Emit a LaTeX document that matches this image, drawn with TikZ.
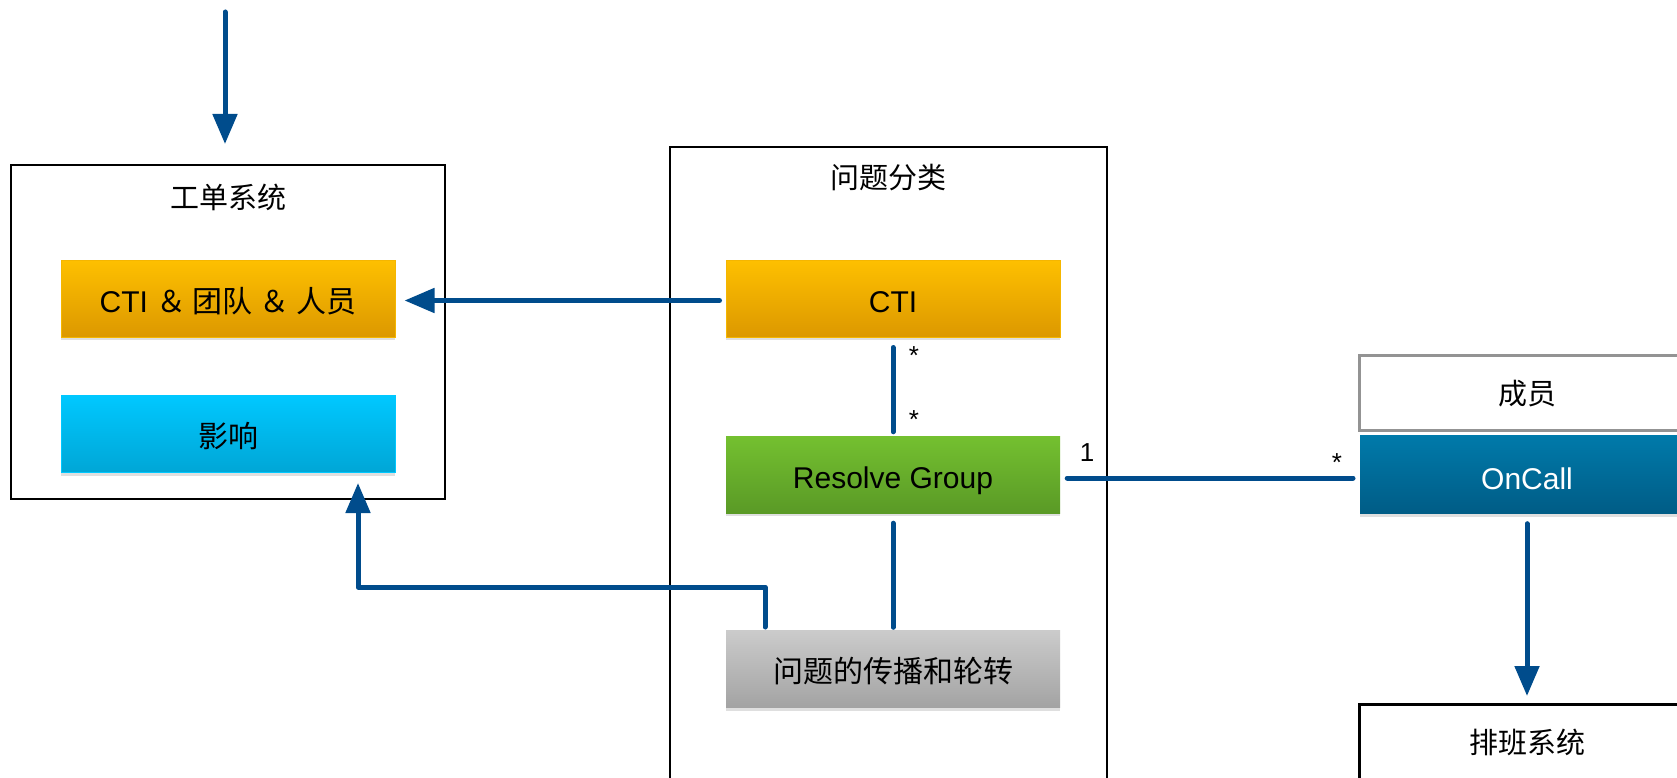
\documentclass[tikz,border=0pt]{standalone}
\usepackage{fontspec}
\setmainfont{Liberation Sans}
\newfontfamily\cjk{Noto Sans CJK SC}
\usetikzlibrary{arrows.meta, shadows}

\definecolor{linkblue}{RGB}{0,76,140}
\definecolor{orangetop}{RGB}{254,192,0}
\definecolor{orangebot}{RGB}{220,152,0}
\definecolor{orangeline}{RGB}{245,182,0}
\definecolor{cyantop}{RGB}{0,200,255}
\definecolor{cyanbot}{RGB}{0,166,214}
\definecolor{greentop}{RGB}{116,192,48}
\definecolor{greenbot}{RGB}{90,154,38}
\definecolor{graytop}{RGB}{203,203,203}
\definecolor{graybot}{RGB}{163,163,163}
\definecolor{oncalltop}{RGB}{0,122,170}
\definecolor{oncallbot}{RGB}{0,92,134}

\tikzset{
	frame/.style={draw=black, line width=2pt, fill=white, inner sep=0pt},
	item/.style={minimum width=334pt, minimum height=77pt, inner sep=0pt,
		text height=27pt, text depth=0pt,
		font=\fontsize{30}{36}\selectfont,
		drop shadow={shadow xshift=0pt, shadow yshift=-3pt, opacity=0.25}},
	ctiitem/.style={item, draw=orangeline, line width=1pt, top color=orangetop, bottom color=orangebot},
	impactitem/.style={item, draw=cyantop, line width=1pt, top color=cyantop, bottom color=cyanbot},
	groupitem/.style={item, top color=greentop, bottom color=greenbot},
	spreaditem/.style={item, top color=graytop, bottom color=graybot},
	title/.style={font=\fontsize{29}{34}\selectfont\cjk},
	link/.style={linkblue, line width=5pt, line cap=round, line join=round},
	arr/.style={link, -{Triangle[width=24pt,length=30pt]}},
	mult/.style={font=\fontsize{26}{30}\selectfont}
}

\begin{document}
\begin{tikzpicture}[x=1pt,y=-1pt]
	\useasboundingbox (0,0) rectangle (1677,778);
	\clip (0,0) rectangle (1677,778);

	% ticket system
	\node[frame, minimum width=434pt, minimum height=334pt] (ticket) at (228,332) {};
	\node[title] (tickettitle) at (228,197) {工单系统};
	\node[ctiitem] (ctiteam) at (228,298.5) {CTI {\cjk ＆ 团队 ＆ 人员}};
	\node[impactitem] (impact) at (228,434) {\cjk 影响};

	% classification
	\node[frame, minimum width=437pt, minimum height=683pt] (classify) at (888.5,488.5) {};
	\node[title] (classifytitle) at (888,178) {问题分类};
	\node[ctiitem] (cti) at (893,298.5) {CTI};
	\node[groupitem] (rg) at (893,474.5) {Resolve Group};
	\node[spreaditem] (spread) at (893,669) {\cjk 问题的传播和轮转};

	% members and schedule
	\node[draw=gray!85, line width=3pt, fill=white, minimum width=500pt, minimum height=75pt, anchor=west] (member) at (1358,392.5) {};
	\node[title] (membertext) at (1527,394) {成员};
	\node[minimum width=500pt, minimum height=78pt, anchor=west, top color=oncalltop, bottom color=oncallbot,
		drop shadow={shadow xshift=0pt, shadow yshift=-3pt, opacity=0.25}] (oncall) at (1360,474.5) {};
	\node[text=white, font=\fontsize{30}{36}\selectfont] (oncalltext) at (1527,479) {OnCall};
	\node[frame, line width=3pt, minimum width=500pt, minimum height=200pt, anchor=north west] (schedule) at (1358,703) {};
	\node[title] (scheduletext) at (1527,742) {排班系统};

	% connectors
	\coordinate (ticketin) at (225,12);
	\draw[arr, shorten >=20pt] (ticketin) -- (ticketin |- ticket.north);
	\draw[arr, shorten <=6pt, shorten >=9pt] ([yshift=-2pt]cti.west) -- ([yshift=-2pt]ctiteam.east);
	\draw[link, shorten <=10pt, shorten >=4pt] (cti.south) -- (rg.north);
	\node[mult] (ctistar) at (914,356) {*};
	\node[mult] (rgstar) at (914,420) {*};
	\draw[link, shorten <=7pt, shorten >=7pt] ([yshift=-3.5pt]rg.east) -- ([yshift=-3.5pt]oncall.west);
	\node[mult] (rgone) at (1087,453) {1};
	\node[mult] (oncallstar) at (1337,463) {*};
	\draw[link, shorten <=10pt, shorten >=3pt] (rg.south) -- (spread.north);
	\coordinate (spreadout) at (765,627);
	\coordinate (bend) at (358,587);
	\draw[arr, shorten >=10pt] (spreadout) |- (bend) -- (bend |- impact.south);
	\draw[arr, shorten <=10pt, shorten >=7pt] (oncall.south -| oncalltext) -- (schedule.north -| oncalltext);
\end{tikzpicture}
\end{document}
